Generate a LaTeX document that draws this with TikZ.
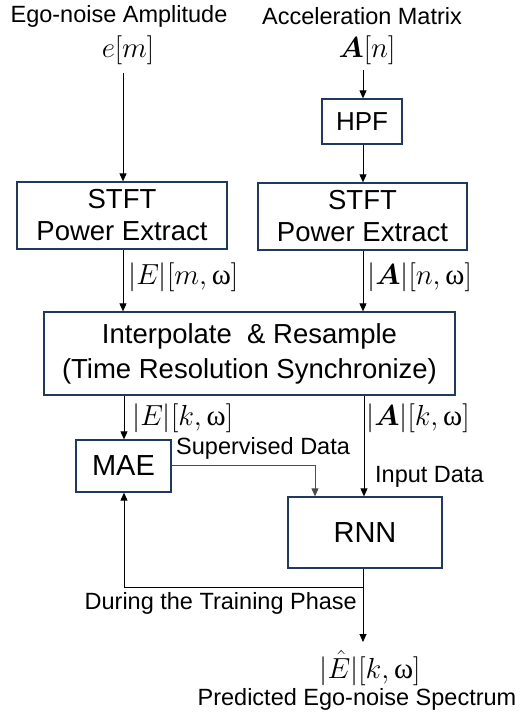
\RequirePackage{fix-cm}
\documentclass[tikz,border=0pt]{standalone}
\usepackage{amsmath}
\usepackage{bm}
\usepackage{fontspec}
\setmainfont{Liberation Sans}
\newfontfamily\grkfont{Liberation Serif}
\usetikzlibrary{arrows.meta}
\definecolor{navy}{RGB}{31,56,100}
\newcommand{\om}{\mbox{\grkfont ω}}
\tikzset{
  blk/.style={draw=navy, line width=1.3pt, inner sep=0pt, align=center},
  lbl/.style={font=\fontsize{23.5}{26}\selectfont, inner sep=0pt},
  mth/.style={font=\fontsize{29}{31}\selectfont, inner sep=0pt},
  arr/.style={draw=black, line width=0.9pt, -{Triangle[width=7pt,length=8pt]}},
  ln/.style={draw=black, line width=0.9pt},
}
\begin{document}
\begin{tikzpicture}[x=1pt,y=-1pt]
\useasboundingbox (0,0) rectangle (524,715);
% top labels
\node[lbl] (lt) at (119,16) {Ego-noise Amplitude};
\node[lbl] (rt) at (362,16) {Acceleration Matrix};
\node[mth] (em) at (128,50) {$e[m]$};
\node[mth] (an) at (367,50) {$\bm{A}[n]$};
\coordinate (emb) at (123,73);
\coordinate (anb) at (363,70);
% boxes
\node[blk, minimum width=80pt, minimum height=45pt, font=\fontsize{26}{28}\selectfont] (hpf) at (362,121.5) {HPF};
\node[blk, minimum width=210pt, minimum height=67pt, font=\fontsize{27.5}{32}\selectfont] (s1) at (122,215.5) {STFT\\Power Extract};
\node[blk, minimum width=209pt, minimum height=67pt, font=\fontsize{27.5}{32}\selectfont] (s2) at (362.5,216.5) {STFT\\Power Extract};
\node[blk, minimum width=411pt, minimum height=83pt, font=\fontsize{27.5}{35}\selectfont] (ir) at (249.5,353.5) {Interpolate\ \ \&\ Resample\\(Time Resolution Synchronize)};
\node[blk, minimum width=95pt, minimum height=52pt, font=\fontsize{29}{30}\selectfont] (mae) at (123.5,466) {MAE};
\node[blk, minimum width=154pt, minimum height=71pt, font=\fontsize{29}{30}\selectfont] (rnn) at (365,532.5) {RNN};
% arrows
\draw[arr] (emb) -- (emb |- s1.north);
\draw[arr] (anb) -- (anb |- hpf.north);
\draw[arr] (hpf.south -| anb) -- (anb |- s2.north);
\draw[arr] (s1.south -| emb) -- (emb |- ir.north);
\draw[arr] (s2.south -| anb) -- (anb |- ir.north);
\node[mth, anchor=west] (l1) at (128,277) {$|E|[m,\om]$};
\node[mth, anchor=west] (l2) at (367,277) {$|\bm{A}|[n,\om]$};
\coordinate (xl) at (124,0);
\coordinate (xr) at (364,0);
\draw[arr] (ir.south -| xl) -- (xl |- mae.north);
\draw[arr] (ir.south -| xr) -- (xr |- rnn.north);
\node[mth, anchor=west] (l3) at (132,418) {$|E|[k,\om]$};
\node[mth, anchor=west] (l4) at (366,418) {$|\bm{A}|[k,\om]$};
\node[lbl, anchor=west] (sup) at (176,448) {Supervised Data};
\node[lbl, anchor=west] (inp) at (375,477) {Input Data};
\coordinate (sc) at (315,465);
\draw[draw=black!70, line width=0.9pt, -{Triangle[width=7pt,length=8pt]}] (mae.east |- sc) -- (sc) -- (sc |- rnn.north);
% feedback and output
\coordinate (fb) at (363,587);
\coordinate (fbl) at (124,587);
\coordinate (out) at (363,642);
\draw[ln] (rnn.south -| fb) -- (fb);
\draw[arr] (fb) -- (fbl) -- (fbl |- mae.south);
\draw[arr] (fb) -- (out);
\node[lbl, anchor=east] (dtp) at (357,603) {During the Training Phase};
\node[mth] (eh) at (370,668) {$|\hat{E}|[k,\om]$};
\node[lbl] (pes) at (357,699) {Predicted Ego-noise Spectrum};
\end{tikzpicture}
\end{document}
